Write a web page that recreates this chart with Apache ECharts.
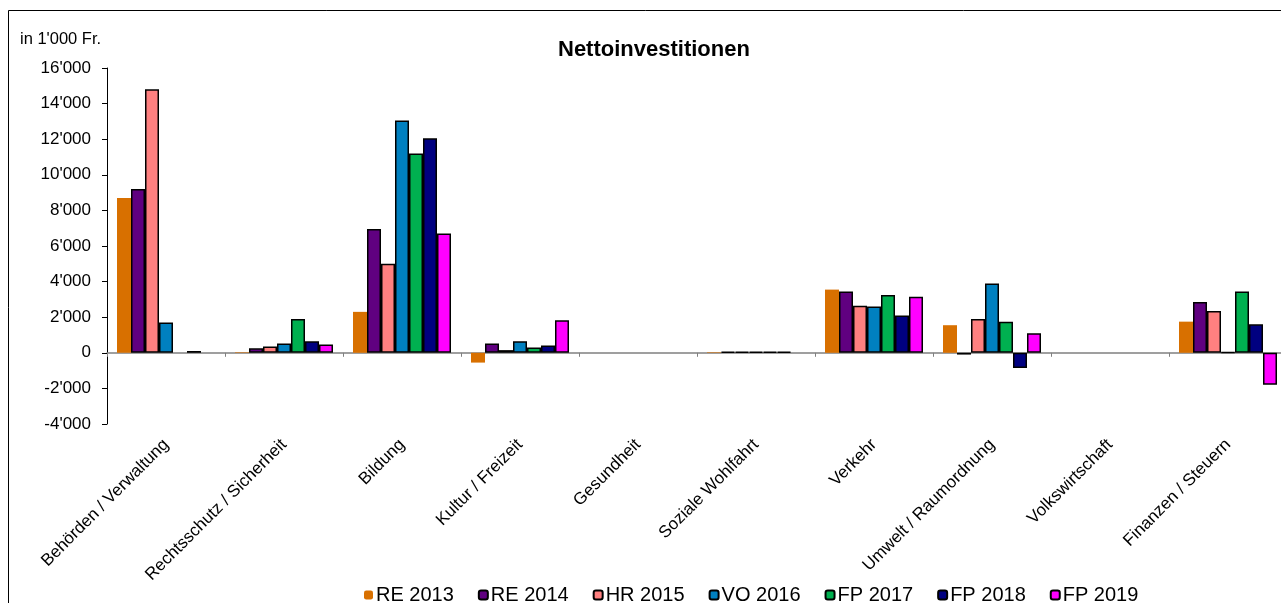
<!DOCTYPE html>
<html><head><meta charset="utf-8">
<script src="https://cdn.jsdelivr.net/npm/echarts@6/dist/echarts.min.js"></script>
<style>html,body{margin:0;padding:0;background:#fff}#c{width:1281px;height:603px}</style>
</head><body><div id="c"></div>
<script>
const categories = ['Behörden / Verwaltung','Rechtsschutz / Sicherheit','Bildung','Kultur / Freizeit','Gesundheit','Soziale Wohlfahrt','Verkehr','Umwelt / Raumordnung','Volkswirtschaft','Finanzen / Steuern'];
const seriesNames = ['RE 2013','RE 2014','HR 2015','VO 2016','FP 2017','FP 2018','FP 2019'];
const re2013 = [8700, 30, 2300, -550, null, 30, 3550, 1550, null, 1750];
const re2014 = [9200, 250, 6950, 520, null, 50, 3450, -100, null, 2850];
const hr2015 = [14800, 350, 5000, 150, null, 50, 2650, 1900, null, 2350];
const vo2016 = [1700, 520, 13050, 650, null, 50, 2600, 3900, null, 20];
const fp2017 = [null, 1900, 11200, 300, null, 50, 3250, 1750, null, 3450];
const fp2018 = [100, 650, 12050, 410, null, 50, 2100, -850, null, 1600];
const fp2019 = [null, 460, 6700, 1830, null, null, 3150, 1100, null, -1800];
const yTicks = [-4000, 16000, 2000];
const colors = ['#D87000','#600080','#FF8080','#0080C0','#00B050','#000080','#FF00FF'];
const values = [re2013, re2014, hr2015, vo2016, fp2017, fp2018, fp2019];

const FONT = 'Arial, "Liberation Sans", sans-serif';
const fmt = v => {
  const s = String(Math.abs(v)).replace(/\B(?=(\d{3})+(?!\d))/g, "'");
  return (v < 0 ? '-' : '') + s;
};

const chart = echarts.init(document.getElementById('c'), null, {renderer: 'canvas'});
chart.setOption({
  animation: false,
  backgroundColor: '#fff',
  title: {
    text: 'Nettoinvestitionen', left: 553, top: 34,
    textStyle: {fontFamily: FONT, fontSize: 22, fontWeight: 'bold', color: '#000'}
  },
  graphic: [
    {type: 'rect', shape: {x: 8.5, y: 10.5, width: 1290, height: 620}, style: {fill: 'none', stroke: '#000', lineWidth: 1}, silent: true, z: -1},
    {type: 'text', left: 20, top: 31, style: {text: "in 1'000 Fr.", fontFamily: FONT, fontSize: 16.5, fill: '#000'}}
  ],
  legend: {
    left: 359, top: 580, itemWidth: 9, itemHeight: 9, itemGap: 24,
    textStyle: {fontFamily: FONT, fontSize: 20, color: '#000', padding: [0,0,0,-2]},
    data: seriesNames
  },
  grid: {left: 107, top: 68, width: 1180, height: 356, containLabel: false, outerBoundsMode: 'none'},
  xAxis: {
    type: 'category', data: categories,
    axisLine: {onZero: true, lineStyle: {color: '#808080', width: 1.5}},
    axisTick: {show: true, length: 4, lineStyle: {color: '#808080'}},
    axisLabel: {rotate: 45, interval: 0, margin: 18, fontFamily: FONT, fontSize: 17, color: '#000'},
    splitLine: {show: false}
  },
  yAxis: {
    type: 'value', min: yTicks[0], max: yTicks[1], interval: yTicks[2],
    axisLine: {show: true, onZero: false, lineStyle: {color: '#000', width: 1}},
    axisTick: {show: true, length: 5, lineStyle: {color: '#000'}},
    axisLabel: {fontFamily: FONT, fontSize: 17, color: '#000', margin: 16, formatter: fmt},
    splitLine: {show: false}
  },
  series: seriesNames.map((n, i) => ({
    name: n, type: 'bar', data: values[i], barWidth: 14, barGap: '0%',
    itemStyle: i === 0 ? {color: colors[i]} : {color: colors[i], borderColor: '#000', borderWidth: 1.5}
  }))
});
</script></body></html>
